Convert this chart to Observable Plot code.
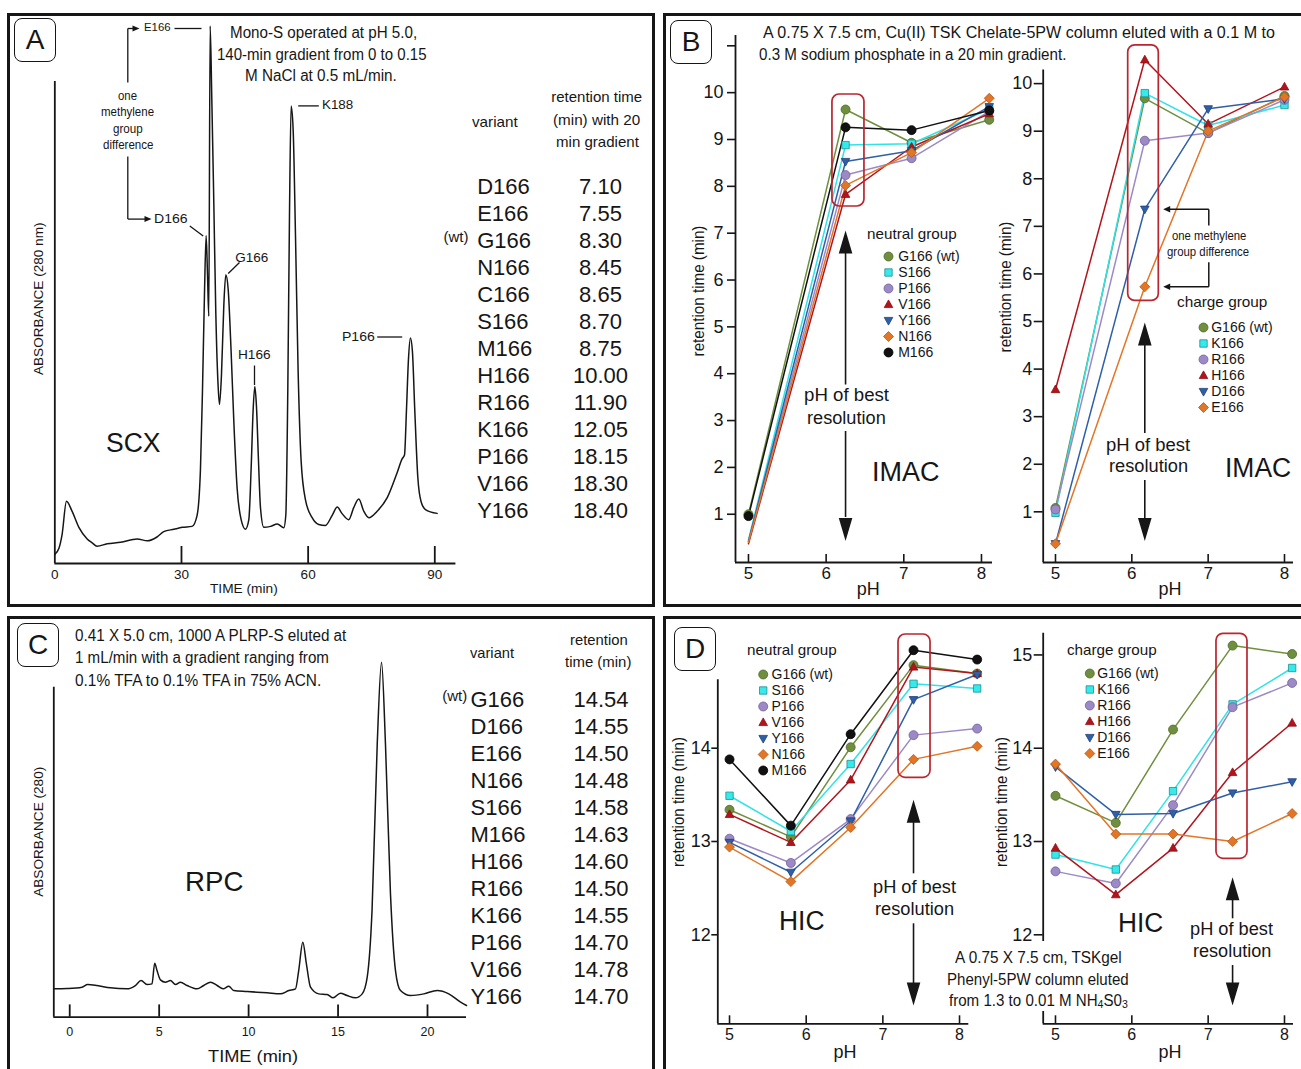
<!DOCTYPE html>
<html><head><meta charset="utf-8">
<script src="https://cdn.jsdelivr.net/npm/d3@7"></script>
<script src="https://cdn.jsdelivr.net/npm/@observablehq/plot@0.6"></script>
<style>
html,body{margin:0;padding:0;background:#fff;}
#root{position:relative;width:1301px;height:1069px;overflow:hidden;background:#fff;font-family:"Liberation Sans",Arial,Helvetica,sans-serif;color:#161616;}
.t{position:absolute;white-space:nowrap;line-height:1;}
.frame{position:absolute;box-sizing:border-box;border:3px solid #161616;}
.letter{position:absolute;box-sizing:border-box;width:42px;height:44px;border:1.7px solid #161616;border-radius:8px;font-size:28px;line-height:41px;text-align:center;background:#fff;}
</style></head><body><div id="root"></div>
<script>
// ================= DATA =================
// Panel A: SCX chromatogram (time in min, absorbance in arbitrary units)
const scxTime = [0,0.95,1.7,2.76,4.1,5.7,7.66,8.84,10.0,12.4,15.6,19.5,21.9,24.2,25.8,28.2,30.2,32.5,33.7,34.5,34.97,35.45,35.84,36.16,36.47,36.79,37.18,37.66,38.13,38.6,39.0,39.47,40.03,40.5,41.05,41.76,42.4,43.18,44.13,45.15,45.95,46.5,46.97,47.37,47.76,48.24,48.71,49.5,51.1,52.7,54.24,54.71,55.18,55.58,55.97,56.45,57.0,57.63,58.34,59.37,60.95,62.5,64.1,65.7,66.9,68.0,69.6,70.8,72.0,73.2,74.4,76.3,78.7,81.1,82.26,82.82,83.29,83.76,84.23,84.7,85.26,85.97,86.76,87.79,90.55];
const scxAbs = [1.9,3.1,5.9,12.9,10.8,7.5,5.1,4.3,3.6,4.1,4.4,5.1,4.7,5.5,6.6,7.1,7.5,7.7,10.0,19.7,35.8,56.1,68.0,60.1,51.3,111.5,96.5,74.7,52.0,38.3,33.0,39.1,53.6,59.9,57.0,43.9,29.4,15.6,9.1,7.1,9.1,19.7,31.8,36.7,32.6,21.3,11.6,7.5,7.7,8.2,7.4,10.0,35.8,72.2,94.9,90.0,68.2,39.9,21.3,13.2,9.5,8.1,7.9,10.0,11.7,10.4,9.1,11.6,13.4,10.8,9.5,10.8,13.6,18.9,21.7,22.5,31.8,42.3,46.8,44.0,31.8,18.0,12.8,11.2,10.4];
const scxTicks = [0,30,60,90];
const scxVariants = ["D166","E166","G166","N166","C166","S166","M166","H166","R166","K166","P166","V166","Y166"];
const scxRT = [7.10,7.55,8.30,8.45,8.65,8.70,8.75,10.00,11.90,12.05,18.15,18.30,18.40];

// Panel C: RPC chromatogram
const rpcTime = [-0.89,-0.15,0.69,1.0,1.53,2.27,3.2,3.67,3.99,4.32,4.6,4.75,4.88,5.07,5.35,5.63,5.91,6.19,6.56,7.12,7.49,7.87,8.24,8.57,8.89,9.17,9.92,11.03,11.78,12.25,12.62,12.8,13.03,13.23,13.46,13.92,14.39,14.72,15.13,15.5,15.97,16.35,16.63,16.9,17.19,17.43,17.65,17.93,18.21,18.49,19.05,19.8,20.54,21.19,21.85,22.18];
const rpcAbs = [8.5,8.6,9.0,9.8,9.5,8.8,8.5,9.5,11.0,9.8,10.0,16.2,14.0,11.2,10.5,11.0,9.8,10.5,9.5,8.5,9.5,10.5,9.5,8.5,9.3,8.0,7.7,7.3,7.0,8.0,8.5,14.0,22.5,16.0,9.0,7.0,6.8,5.8,7.2,6.5,5.8,7.0,12.0,32,82,106.5,82,37,14.0,8.0,6.5,7.0,8.0,7.0,4.5,3.5];
const rpcTicks = [0,5,10,15,20];
const rpcVariants = ["G166","D166","E166","N166","S166","M166","H166","R166","K166","P166","V166","Y166"];
const rpcRT = [14.54,14.55,14.50,14.48,14.58,14.63,14.60,14.50,14.55,14.70,14.78,14.70];

// Groups (wild type = G166)
const WT = "G166";
const neutralGroup = ["G166","S166","P166","V166","Y166","N166","M166"];
const chargeGroup = ["G166","K166","R166","H166","D166","E166"];
const pHTicks = [5,6,7,8];

// Panel B: IMAC retention time (min) vs pH
const imacNeutralPH = [5.0, 6.25, 7.1, 8.1];
const imacNeutralRT = [
  [1.00, 9.64, 8.93, 9.42],
  [0.45, 8.88, 8.91, 9.65],
  [0.42, 8.24, 8.60, 9.60],
  [0.37, 7.83, 8.84, 9.55],
  [0.42, 8.53, 8.76, 9.70],
  [0.40, 8.02, 8.72, 9.88],
  [0.96, 9.26, 9.20, 9.62]
];
const imacChargePH = [5.0, 6.17, 7.0, 8.0];
const imacChargeRT = [
  [1.08, 9.69, 8.96, 9.74],
  [0.98, 9.80, 9.12, 9.55],
  [1.05, 8.80, 8.96, 9.66],
  [3.57, 10.50, 9.15, 9.93],
  [0.33, 7.36, 9.47, 9.68],
  [0.33, 5.73, 9.00, 9.72]
];

// Panel D: HIC retention time (min) vs pH
const hicNeutralPH = [5.0, 5.8, 6.58, 7.4, 8.23];
const hicNeutralRT = [
  [13.34, 13.05, 14.01, 14.89, 14.80],
  [13.49, 13.11, 13.83, 14.69, 14.64],
  [13.03, 12.77, 13.24, 14.14, 14.21],
  [13.29, 12.99, 13.66, 14.87, 14.80],
  [12.99, 12.67, 13.22, 14.52, 14.79],
  [12.94, 12.57, 13.15, 13.88, 14.02],
  [13.88, 13.17, 14.15, 15.05, 14.95]
];
const hicChargePH = [5.0, 5.79, 6.54, 7.32, 8.1];
const hicChargeRT = [
  [13.49, 13.20, 14.20, 15.10, 15.01],
  [12.86, 12.70, 13.54, 14.47, 14.86],
  [12.68, 12.55, 13.39, 14.44, 14.70],
  [12.93, 12.43, 12.93, 13.74, 14.27],
  [13.80, 13.29, 13.30, 13.52, 13.64],
  [13.83, 13.08, 13.08, 13.00, 13.30]
];

// ================= STYLE / HELPERS =================
const root = document.getElementById("root");
const INK = "#161616", RED = "#b9262f";
const FONT = '"Liberation Sans", Arial, Helvetica, sans-serif';
const mk = fn => ({draw: fn});
const SYM = {
  circle: mk(c => { c.moveTo(4.5,0); c.arc(0,0,4.5,0,2*Math.PI); c.closePath(); }),
  square: mk(c => { c.rect(-3.7,-3.7,7.4,7.4); }),
  triUp: mk(c => { c.moveTo(0,-4.6); c.lineTo(4.3,3.1); c.lineTo(-4.3,3.1); c.closePath(); }),
  triDown: mk(c => { c.moveTo(0,4.6); c.lineTo(4.3,-3.1); c.lineTo(-4.3,-3.1); c.closePath(); }),
  diamond: mk(c => { c.moveTo(0,-5); c.lineTo(5,0); c.lineTo(0,5); c.lineTo(-5,0); c.closePath(); }),
  headUp: mk(c => { c.moveTo(0,0); c.lineTo(6.8,23); c.lineTo(-6.8,23); c.closePath(); }),
  headDown: mk(c => { c.moveTo(0,0); c.lineTo(6.8,-23); c.lineTo(-6.8,-23); c.closePath(); }),
  headRight: mk(c => { c.moveTo(0,0); c.lineTo(-7,-3); c.lineTo(-7,3); c.closePath(); }),
  headLeft: mk(c => { c.moveTo(0,0); c.lineTo(7,-3.2); c.lineTo(7,3.2); c.closePath(); })
};
const PAL = [
  {line:"#6f8f3f", fill:"#6f8f3f", stroke:"#4f6a2b", sym:SYM.circle},
  {line:"#2fe3e6", fill:"#35eaea", stroke:"#1f8e93", sym:SYM.square},
  {line:"#9c8ac6", fill:"#9c8ac6", stroke:"#72609b", sym:SYM.circle},
  {line:"#b3141c", fill:"#b3141c", stroke:"#8c0f15", sym:SYM.triUp},
  {line:"#2f5fa8", fill:"#2f5fa8", stroke:"#1f4079", sym:SYM.triDown},
  {line:"#e27526", fill:"#e27526", stroke:"#b25a1a", sym:SYM.diamond},
  {line:"#111111", fill:"#111111", stroke:"#000000", sym:SYM.circle}
];
const baseStyle = {background:"none", overflow:"visible", fontFamily:FONT, color:INK};
const intFmt = d => String(d);

function place(svg, L, T) {
  svg.style.position = "absolute"; svg.style.left = L + "px"; svg.style.top = T + "px";
  root.appendChild(svg); return svg;
}
function div(cls, l, t, w, h, extra) {
  const e = document.createElement("div"); e.className = cls;
  Object.assign(e.style, {left:l+"px", top:t+"px", width:w+"px", height:h+"px"}, extra || {});
  root.appendChild(e); return e;
}
function T(html, x, y, size, o = {}) {
  const el = document.createElement("div");
  el.className = "t"; el.innerHTML = html; el.style.fontSize = size + "px";
  root.appendChild(el);
  const w = el.offsetWidth, h = el.offsetHeight;
  const sx = o.w ? o.w / w : 1;
  if (o.rot) {
    el.style.left = (x - w/2) + "px"; el.style.top = (y - h/2) + "px";
    el.style.transformOrigin = "50% 50%";
    el.style.transform = `rotate(${o.rot}deg) scaleX(${sx})`;
  } else {
    const W2 = w * sx, a = o.anchor || "middle";
    const left = a === "start" ? x : a === "end" ? x - W2 : x - W2/2;
    el.style.left = left + "px"; el.style.top = (y - h/2) + "px";
    el.style.transformOrigin = "0 50%";
    el.style.transform = `scaleX(${sx})`;
  }
  return el;
}
const linkMark = (segs, sw) => Plot.link(segs, {x1:d=>d[0], y1:d=>d[1], x2:d=>d[2], y2:d=>d[3], stroke:INK, strokeWidth:sw || 1.3});

// ================= FRAMES =================
div("frame", 7, 13, 648, 594);
div("frame", 663, 13, 650, 594);
div("frame", 7, 616, 648, 500);
div("frame", 663, 616, 650, 500);

// ================= PANEL A (SCX) =================
{
  const L=0, Tp=0, W=470, H=607, x0=54.33, x1=455.4, y0=81, y1=563, xD=[0,95], yD=[0,100];
  const ix = px => xD[0] + (px - x0)*(xD[1]-xD[0])/(x1-x0);
  const iy = py => yD[0] + (y1 - py)*(yD[1]-yD[0])/(y1-y0);
  const ky = (y1-y0)/(yD[1]-yD[0]);
  const scx = scxTime.map((t,i) => ({t, a: scxAbs[i]}));
  const leaders = [[174,28,201,28],[189.3,225.6,202.7,235.4],[227.7,273,239,262],[254,365,254,384.5],[297.7,105.4,318.3,105.4],[376.7,336.5,401.7,336.5],
                   [127.3,28,127.3,82],[127.3,156,127.3,218.6],[127.3,28,134,28],[127.3,218.6,146,218.6]]
                  .map(s => [ix(s[0]), iy(s[1]), ix(s[2]), iy(s[3])]);
  const heads = [[139,28],[151,218.6]].map(p => [ix(p[0]), iy(p[1])]);
  place(Plot.plot({
    width:W, height:H, marginLeft:x0-L, marginRight:L+W-x1, marginTop:y0-Tp, marginBottom:Tp+H-y1,
    x:{domain:xD}, y:{domain:yD, axis:null}, style:baseStyle,
    marks:[
      Plot.ruleY([0], {stroke:INK, strokeWidth:1.8}),
      Plot.ruleX([0], {stroke:INK, strokeWidth:1.8}),
      Plot.ruleX(scxTicks.filter(d => d > 0), {y1:0, y2:17/ky, stroke:INK, strokeWidth:1.8}),
      Plot.axisX({ticks:scxTicks, tickFormat:intFmt, tickSize:0, tickPadding:6, fontSize:13.5, label:null}),
      Plot.line(scx, {x:"t", y:"a", curve:"monotone-x", stroke:INK, strokeWidth:1.5}),
      linkMark(leaders, 1.3),
      Plot.dot(heads, {x:d=>d[0], y:d=>d[1], symbol:SYM.headRight, fill:INK})
    ]
  }), L, Tp);
}
// Table A
place(Plot.plot({
  width:225, height:370, marginLeft:46.7, marginRight:0, marginTop:0, marginBottom:0,
  y:{type:"point", domain:scxVariants, range:[21.7, 353.3], padding:0, axis:null}, style:baseStyle,
  marks:[
    Plot.text(scxVariants, {y:d=>d, text:d=>d, frameAnchor:"left", textAnchor:"start", fontSize:22, fill:INK}),
    Plot.text(scxVariants.map((n,i)=>({n, v:scxRT[i]})), {y:"n", text:d=>d.v.toFixed(2), frameAnchor:"left", textAnchor:"middle", dx:123.3, fontSize:22, fill:INK}),
    Plot.text([WT], {y:d=>d, text:()=>"(wt)", frameAnchor:"left", textAnchor:"end", dx:-8.7, dy:-3, fontSize:15, fill:INK})
  ]
}), 430, 160);

// ================= PANEL C (RPC) =================
{
  const L=0, Tp=612, W=475, H=457, x0=53.3, x1=466, y0=686.7, y1=1016.7, xD=[-0.89,22.18], yD=[0,99];
  const ky = (y1-y0)/(yD[1]-yD[0]);
  const rpc = rpcTime.map((t,i) => ({t, a: rpcAbs[i]}));
  place(Plot.plot({
    width:W, height:H, marginLeft:x0-L, marginRight:L+W-x1, marginTop:y0-Tp, marginBottom:Tp+H-y1,
    x:{domain:xD}, y:{domain:yD, axis:null}, style:baseStyle,
    marks:[
      Plot.ruleY([0], {stroke:INK, strokeWidth:1.8}),
      Plot.ruleX([xD[0]], {stroke:INK, strokeWidth:1.8}),
      Plot.ruleX(rpcTicks, {y1:0, y2:12.3/ky, stroke:INK, strokeWidth:1.8}),
      Plot.axisX({ticks:rpcTicks, tickFormat:intFmt, tickSize:0, tickPadding:10, fontSize:12.5, label:null}),
      Plot.line(rpc, {x:"t", y:"a", curve:"monotone-x", stroke:INK, strokeWidth:1.5})
    ]
  }), L, Tp);
}
// Table C
place(Plot.plot({
  width:225, height:330, marginLeft:40, marginRight:0, marginTop:0, marginBottom:0,
  y:{type:"point", domain:rpcVariants, range:[16, 319], padding:0, axis:null}, style:baseStyle,
  marks:[
    Plot.text(rpcVariants, {y:d=>d, text:d=>d, frameAnchor:"left", textAnchor:"start", fontSize:22, fill:INK}),
    Plot.text(rpcVariants.map((n,i)=>({n, v:rpcRT[i]})), {y:"n", text:d=>d.v.toFixed(2), frameAnchor:"left", textAnchor:"middle", dx:130.5, fontSize:22, fill:INK}),
    Plot.text([WT], {y:d=>d, text:()=>"(wt)", frameAnchor:"left", textAnchor:"end", dx:-3.3, dy:-3, fontSize:15, fill:INK})
  ]
}), 430, 680);

// ================= pH PANELS =================
function phPanel(c) {
  const xD = c.xD, yD = c.yD;
  const ix = px => xD[0] + (px - c.x0)*(xD[1]-xD[0])/(c.x1-c.x0);
  const iy = py => yD[0] + (c.y1 - py)*(yD[1]-yD[0])/(c.y1-c.y0);
  const ky = (c.y1-c.y0)/(yD[1]-yD[0]);
  const rows = c.group.flatMap((v,i) => c.pH.map((p,j) => ({variant:v, slot:i, pH:p, rt:c.rt[i][j]})));
  const col = c.rt.map(r => r[c.best]);
  const bp = c.pH[c.best];
  const A = c.arrow;
  const marks = [
    Plot.ruleY([yD[0]], {stroke:INK, strokeWidth:1.8}),
    Plot.ruleX([xD[0]], {stroke:INK, strokeWidth:1.8}),
    Plot.axisY({ticks:c.yTicks, tickFormat:c.yFormat || intFmt, tickSize:c.tickY, tickPadding:c.padY, fontSize:c.yFont, label:null, strokeWidth:1.6}),
    Plot.axisX({ticks:pHTicks, tickFormat:intFmt, tickSize:0, tickPadding:c.padX, fontSize:c.xFont, label:null}),
    Plot.ruleX(pHTicks, {y1:yD[0], y2:yD[0] + 8/ky, stroke:INK, strokeWidth:1.6}),
    ...c.group.map((v,i) => Plot.line(rows.filter(d => d.slot === i), {x:"pH", y:"rt", stroke:PAL[i].line, strokeWidth:1.5})),
    ...c.group.map((v,i) => Plot.dot(rows.filter(d => d.slot === i && !(c.hide && c.hide(d))), {x:"pH", y:"rt", symbol:PAL[i].sym, fill:PAL[i].fill, stroke:PAL[i].stroke, strokeWidth:0.8})),
    Plot.rect([bp], {x1:d=>d, x2:d=>d, y1:()=>d3.min(col), y2:()=>d3.max(col),
      insetLeft:c.inset[0], insetRight:c.inset[1], insetTop:c.inset[2], insetBottom:c.inset[3], rx:7, fill:"none", stroke:RED, strokeWidth:1.7}),
    Plot.ruleX([bp], {y1:iy(A[1]), y2:iy(A[2]), stroke:INK, strokeWidth:1.6}),
    Plot.ruleX([bp], {y1:iy(A[3]), y2:iy(A[4]), stroke:INK, strokeWidth:1.6}),
    Plot.dot([bp], {x:d=>d, y:()=>iy(A[0]), symbol:SYM.headUp, fill:INK}),
    Plot.dot([bp], {x:d=>d, y:()=>iy(A[5]), symbol:SYM.headDown, fill:INK}),
    ...(c.extra ? c.extra({ix, iy, bp, col}) : [])
  ];
  return place(Plot.plot({
    width:c.W, height:c.H, marginLeft:c.x0-c.L, marginRight:c.L+c.W-c.x1, marginTop:c.y0-c.T, marginBottom:c.T+c.H-c.y1,
    x:{domain:xD}, y:{domain:yD}, style:baseStyle, marks
  }), c.L, c.T);
}
function legend(group, L, Tp, W, rowTop, rowBot, markerX, textX, size) {
  return place(Plot.plot({
    width:W, height:rowBot - Tp + 12, marginLeft:markerX - L, marginRight:0, marginTop:0, marginBottom:0,
    y:{type:"point", domain:group, range:[rowTop - Tp, rowBot - Tp], padding:0, axis:null}, style:baseStyle,
    marks:[
      ...group.map((v,i) => Plot.dot([v], {y:d=>d, frameAnchor:"left", symbol:PAL[i].sym, fill:PAL[i].fill, stroke:PAL[i].stroke, strokeWidth:0.8})),
      Plot.text(group, {y:d=>d, text:d => d === WT ? d + " (wt)" : d, frameAnchor:"left", textAnchor:"start", dx:textX - markerX, fontSize:size, fill:INK})
    ]
  }), L, Tp);
}

// B left: IMAC neutral
phPanel({L:668, T:16, W:330, H:588, x0:735, x1:992, y0:35, y1:562, xD:[4.833, 8.142], yD:[-0.03, 11.22],
  group:neutralGroup, pH:imacNeutralPH, rt:imacNeutralRT, best:1,
  yTicks:[1,2,3,4,5,6,7,8,9,10,11], yFormat:d => d > 10 ? "" : String(d), tickY:8, padY:4, yFont:18, padX:4, xFont:17,
  hide:d => d.pH === 5 && d.rt < 0.6,
  inset:[-13.1, -18.9, -15, -12.2], arrow:[230, 253, 384.5, 431, 517, 540.6]});
// B right: IMAC charge
phPanel({L:1000, T:16, W:301, H:588, x0:1042.7, x1:1293, y0:69.5, y1:562, xD:[4.839, 8.118], yD:[-0.065, 10.286],
  group:chargeGroup, pH:imacChargePH, rt:imacChargeRT, best:1,
  yTicks:[1,2,3,4,5,6,7,8,9,10], tickY:9, padY:2, yFont:18, padX:4, xFont:17,
  inset:[-16.6, -14, -14.4, -14.2], arrow:[322, 343.5, 433, 480, 519, 540.6],
  extra:({ix, iy, col}) => {
    const yDv = col[4], yEv = col[5], bx = ix(1208.3), base = ix(1169), tip = ix(1162.7);
    return [
      linkMark([[bx, yDv, base, yDv],[bx, yEv, base, yEv],[bx, yDv, bx, iy(225)],[bx, iy(261.7), bx, yEv]], 1.5),
      Plot.dot([yDv, yEv], {x:()=>tip, y:d=>d, symbol:SYM.headLeft, fill:INK})
    ];
  }});
// D left: HIC neutral
phPanel({L:668, T:620, W:330, H:445, x0:717.3, x1:968.3, y0:679.3, y1:1023.3, xD:[4.847, 8.121], yD:[11.046, 14.733],
  group:neutralGroup, pH:hicNeutralPH, rt:hicNeutralRT, best:3,
  yTicks:[12,13,14], tickY:6, padY:1, yFont:18, padX:4.5, xFont:16,
  inset:[-15, -17, -15.7, -18.4], arrow:[799.3, 820.7, 873.3, 923.3, 983.3, 1005]});
// D right: HIC charge
phPanel({L:1000, T:620, W:301, H:445, x0:1042.7, x1:1293, y0:632.7, y1:1023.3, xD:[4.839, 8.118], yD:[11.046, 15.233],
  group:chargeGroup, pH:hicChargePH, rt:hicChargeRT, best:3,
  yTicks:[12,13,14,15], tickY:9, padY:2, yFont:18, padX:4.5, xFont:16,
  inset:[-16.1, -14.9, -11.8, -17.3], arrow:[876.7, 898.3, 918.3, 965, 983.3, 1005]});

legend(neutralGroup, 870, 240, 110, 253, 354, 888, 897.7, 14);
legend(chargeGroup, 1185, 312, 110, 325, 408, 1203, 1210.7, 14);
legend(neutralGroup, 745, 660, 110, 671.7, 771.7, 762.7, 771, 14);
legend(chargeGroup, 1072, 660, 110, 671.7, 755, 1089.3, 1096.7, 14);

// ================= TEXT =================
[["A",14,18],["B",670,19.5],["C",17,623],["D",674,627]].forEach(([s,l,t]) => { const e = div("letter", l, t, 42, 44); e.textContent = s; });

// Panel A
T("Mono-S operated at pH 5.0,", 323.3, 33, 16, {w:186.7});
T("140-min gradient from 0 to 0.15", 321.3, 54.6, 16, {w:209.3});
T("M NaCl at 0.5 mL/min.", 320.8, 76, 16, {w:151.7});
T("ABSORBANCE (280 nm)", 39.3, 298.6, 13.5, {w:153, rot:-90});
T("TIME (min)", 244, 589.4, 13.5, {w:68});
T("SCX", 133.5, 443, 27, {w:55});
T("E166", 157.3, 28, 11.5, {w:26.7});
T("D166", 170.7, 218.6, 13.5, {w:33.3});
T("G166", 251.7, 257.6, 13.5, {w:33});
T("H166", 254.5, 355, 13.5, {w:32.3});
T("K188", 337.5, 105.4, 13.5, {w:31.7});
T("P166", 358.3, 336.5, 13.5, {w:33.3});
T("one", 127.7, 95.6, 12, {w:19});
T("methylene", 127.7, 112.4, 12, {w:52.7});
T("group", 127.7, 128.8, 12, {w:30});
T("difference", 127.7, 145.2, 12, {w:50});
T("variant", 495, 121.7, 15, {w:45.7});
T("retention time", 596.7, 96.7, 15, {w:91});
T("(min) with 20", 596.3, 119.3, 15, {w:87.3});
T("min gradient", 597.7, 141, 15, {w:83.3});

// Panel B
T("A 0.75 X 7.5 cm, Cu(II) TSK Chelate-5PW column eluted with a 0.1 M to", 763, 33.2, 16, {w:511.7, anchor:"start"});
T("0.3 M sodium phosphate in a 20 min gradient.", 759.3, 54.6, 16, {w:307.7, anchor:"start"});
T("retention time (min)", 699, 291, 16, {w:131, rot:-90});
T("retention time (min)", 1006, 287, 16, {w:131, rot:-90});
T("pH", 868.3, 589.4, 18);
T("pH", 1170, 589.4, 18);
T("pH of best", 846.7, 395, 18, {w:85});
T("resolution", 846.7, 417.6, 18, {w:78.7});
T("pH of best", 1148, 445, 18, {w:84});
T("resolution", 1148, 466.4, 18, {w:79});
T("IMAC", 906, 472, 27, {w:68});
T("IMAC", 1258.3, 468.4, 27, {w:66.7});
T("neutral group", 912, 233, 15, {w:89.3});
T("charge group", 1222, 301.7, 15, {w:90});
T("one methylene", 1208.8, 236, 12.5, {w:74.3});
T("group difference", 1208.3, 252.7, 12.5, {w:82});

// Panel C
T("0.41 X 5.0 cm, 1000 A PLRP-S eluted at", 75, 636, 16, {w:271.7, anchor:"start"});
T("1 mL/min with a gradient ranging from", 75, 658.3, 16, {w:254.3, anchor:"start"});
T("0.1% TFA to 0.1% TFA in 75% ACN.", 75, 680.7, 16, {w:246.7, anchor:"start"});
T("ABSORBANCE (280)", 38.3, 831.7, 13.5, {w:130, rot:-90});
T("TIME (min)", 253.3, 1056.7, 17, {w:90});
T("RPC", 214.2, 881.7, 27.5, {w:58.3});
T("variant", 492, 652.3, 15, {w:44});
T("retention", 598.3, 639, 15, {w:57.3});
T("time (min)", 598.3, 661.7, 15, {w:66.7});

// Panel D
T("retention time (min)", 679, 801.7, 16, {w:130, rot:-90});
T("retention time (min)", 1002, 801.7, 16, {w:130, rot:-90});
T("pH", 845, 1051.7, 18);
T("pH", 1170, 1051.7, 18);
T("pH of best", 914.3, 886.7, 18, {w:83});
T("resolution", 914.3, 909, 18, {w:79});
T("pH of best", 1231.7, 929.3, 18, {w:83});
T("resolution", 1231.7, 950.7, 18, {w:78.3});
T("HIC", 802, 921.7, 27, {w:46});
T("HIC", 1140.5, 923.3, 27, {w:45.7});
T("neutral group", 792, 649.3, 15, {w:89.3});
T("charge group", 1112, 649.3, 15, {w:89.3});
div("t", 945, 941, 186, 70, {background:"#fff"});
T("A 0.75 X 7.5 cm, TSKgel", 1038.3, 957.7, 16, {w:166.7});
T("Phenyl-5PW column eluted", 1038.2, 980, 16, {w:181.7});
T('from 1.3 to 0.01 M NH<span style="font-size:0.7em;position:relative;top:0.25em">4</span>S0<span style="font-size:0.7em;position:relative;top:0.25em">3</span>', 1038.5, 1000.7, 16, {w:178.4});
</script></body></html>
